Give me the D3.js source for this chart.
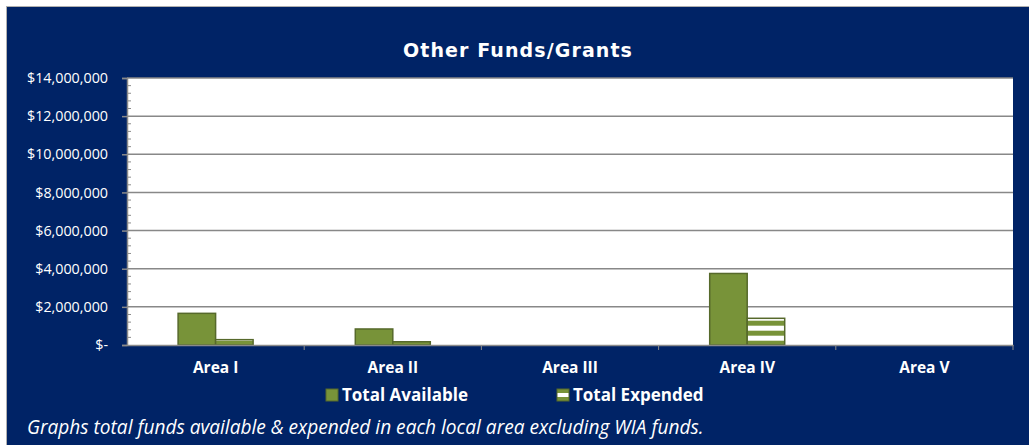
<!DOCTYPE html>
<html>
<head>
<meta charset="utf-8">
<script src="https://cdn.jsdelivr.net/npm/d3@7"></script>
<style>
  body { margin: 0; background: #fff; }
  svg { display: block; }
</style>
</head>
<body>
<div id="chart"></div>
<script>
// chart data
var areas = ["Area I", "Area II", "Area III", "Area IV", "Area V"]
var total_available = [1660000, 840000, 0, 3750000, 0]
var total_expended = [280000, 170000, 0, 1400000, 0]
var series_names = ["Total Available", "Total Expended"]
var y_ticks = [0, 2000000, 4000000, 6000000, 8000000, 10000000, 12000000, 14000000]

var width = 1029, height = 445
var navy = "#002366"
var green = "#789339"
var green_dark = "#56692b"

var margin = { top: 78, right: 16, bottom: 100, left: 127 }
var plot_w = width - margin.left - margin.right
var plot_h = height - margin.top - margin.bottom

var svg = d3.select("#chart")
    .append("svg")
    .attr("width", width)
    .attr("height", height)

// striped fill for expended bars
var defs = svg.append("defs")
var stripes = defs.append("pattern")
    .attr("id", "stripes")
    .attr("patternUnits", "userSpaceOnUse")
    .attr("x", 0).attr("y", 5.7)
    .attr("width", 10).attr("height", 10)
stripes.append("rect").attr("width", 10).attr("height", 10).attr("fill", green)
stripes.append("rect").attr("y", 0).attr("width", 10).attr("height", 5).attr("fill", "#fff")

var legend_stripe = defs.append("pattern")
    .attr("id", "legend_stripe")
    .attr("patternUnits", "objectBoundingBox")
    .attr("width", 1).attr("height", 1)
legend_stripe.append("rect").attr("width", 12).attr("height", 12).attr("fill", green)
legend_stripe.append("rect").attr("y", 4).attr("width", 12).attr("height", 4).attr("fill", "#fff")

// background panel
svg.append("rect")
    .attr("x", 6.5).attr("y", 6.5)
    .attr("width", width).attr("height", height)
    .attr("fill", navy)
    .attr("stroke", "#b0b0b0")

svg.append("text")
    .attr("x", 518).attr("y", 56.5)
    .attr("text-anchor", "middle")
    .attr("fill", "#fff")
    .style("font-family", "DejaVu Sans")
    .style("font-weight", "bold")
    .style("font-size", "19px")
    .style("letter-spacing", "1.1px")
    .text("Other Funds/Grants")

var g = svg.append("g")
    .attr("transform", `translate(${margin.left}, ${margin.top})`)

var x = d3.scaleBand()
    .domain(areas)
    .range([0, plot_w])

var y = d3.scaleLinear()
    .domain([0, 14000000])
    .range([plot_h, 0])

var bar_w = 37.5

g.append("rect")
    .attr("width", plot_w).attr("height", plot_h)
    .attr("fill", "#fff")

// gridlines
g.append("g")
    .selectAll("line")
    .data(y_ticks.slice(1))
    .join("line")
    .attr("x1", 0).attr("x2", plot_w)
    .attr("y1", d => y(d)).attr("y2", d => y(d))
    .attr("stroke", "#888888")
    .attr("stroke-width", 1.5)

// bars
var rows = areas.map(function (a, i) { return { area: a, avail: total_available[i], spent: total_expended[i] } })

g.append("g")
    .selectAll("rect")
    .data(rows.filter(d => d.avail > 0))
    .join("rect")
    .attr("x", d => x(d.area) + x.bandwidth() / 2 - bar_w)
    .attr("y", d => y(d.avail))
    .attr("width", bar_w)
    .attr("height", d => plot_h - y(d.avail))
    .attr("fill", green)
    .attr("stroke", green_dark)
    .attr("stroke-width", 1.5)

g.append("g")
    .attr("transform", `translate(0, ${-margin.top})`)
    .selectAll("rect")
    .data(rows.filter(d => d.spent > 0))
    .join("rect")
    .attr("x", d => x(d.area) + x.bandwidth() / 2)
    .attr("y", d => y(d.spent) + margin.top)
    .attr("width", bar_w)
    .attr("height", d => plot_h - y(d.spent))
    .attr("fill", "url(#stripes)")
    .attr("stroke", green_dark)
    .attr("stroke-width", 1.5)

// y axis
var y_axis = g.append("g")
    .call(d3.axisLeft(y)
        .tickValues(y_ticks)
        .tickSize(5)
        .tickPadding(14)
        .tickFormat(d => d == 0 ? "$-" : "$" + d3.format(",")(d)))
y_axis.select(".domain").attr("stroke", "#8a8a8a").attr("stroke-width", 1.5)
y_axis.selectAll(".tick line").attr("stroke", "#8a8a8a").attr("stroke-width", 1.5)
y_axis.selectAll("text")
    .attr("fill", "#fff")
    .style("font-family", "Open Sans")
    .style("font-size", "14.3px")

// minor ticks inside the plot
g.append("g")
    .selectAll("line")
    .data(d3.range(0, 14000001, 400000).filter(d => d % 2000000 != 0))
    .join("line")
    .attr("x1", 0).attr("x2", 4)
    .attr("y1", d => y(d)).attr("y2", d => y(d))
    .attr("stroke", "#8a8a8a")

// x axis
var x_axis = g.append("g")
    .attr("transform", `translate(0, ${plot_h})`)
    .call(d3.axisBottom(x).tickSize(0).tickPadding(17))
x_axis.select(".domain").attr("stroke", "#8a8a8a").attr("stroke-width", 1.5)
x_axis.selectAll("text")
    .attr("fill", "#fff")
    .style("font-family", "Open Sans")
    .style("font-weight", "bold")
    .style("font-size", "15.5px")

g.append("g")
    .selectAll("line")
    .data(areas.slice(1).concat(["end"]))
    .join("line")
    .attr("x1", d => d == "end" ? plot_w : x(d))
    .attr("x2", d => d == "end" ? plot_w : x(d))
    .attr("y1", plot_h).attr("y2", plot_h + 5)
    .attr("stroke", "#8a8a8a")

// legend
var legend_x = [326, 557]
var legend = svg.append("g")
    .selectAll("g")
    .data(series_names)
    .join("g")
    .attr("transform", (d, i) => `translate(${legend_x[i]}, 389)`)
legend.append("rect")
    .attr("width", 12).attr("height", 12)
    .attr("fill", (d, i) => i == 0 ? green : "url(#legend_stripe)")
    .attr("stroke", green_dark)
legend.append("text")
    .attr("x", 16).attr("y", 12)
    .attr("fill", "#fff")
    .style("font-family", "Open Sans")
    .style("font-weight", "bold")
    .style("font-size", "17px")
    .text(d => d)

svg.append("text")
    .attr("x", 27).attr("y", 434)
    .attr("fill", "#fff")
    .style("font-family", "Open Sans")
    .style("font-style", "italic")
    .style("font-size", "19.1px")
    .text("Graphs total funds available & expended in each local area excluding WIA funds.")
</script>
</body>
</html>
